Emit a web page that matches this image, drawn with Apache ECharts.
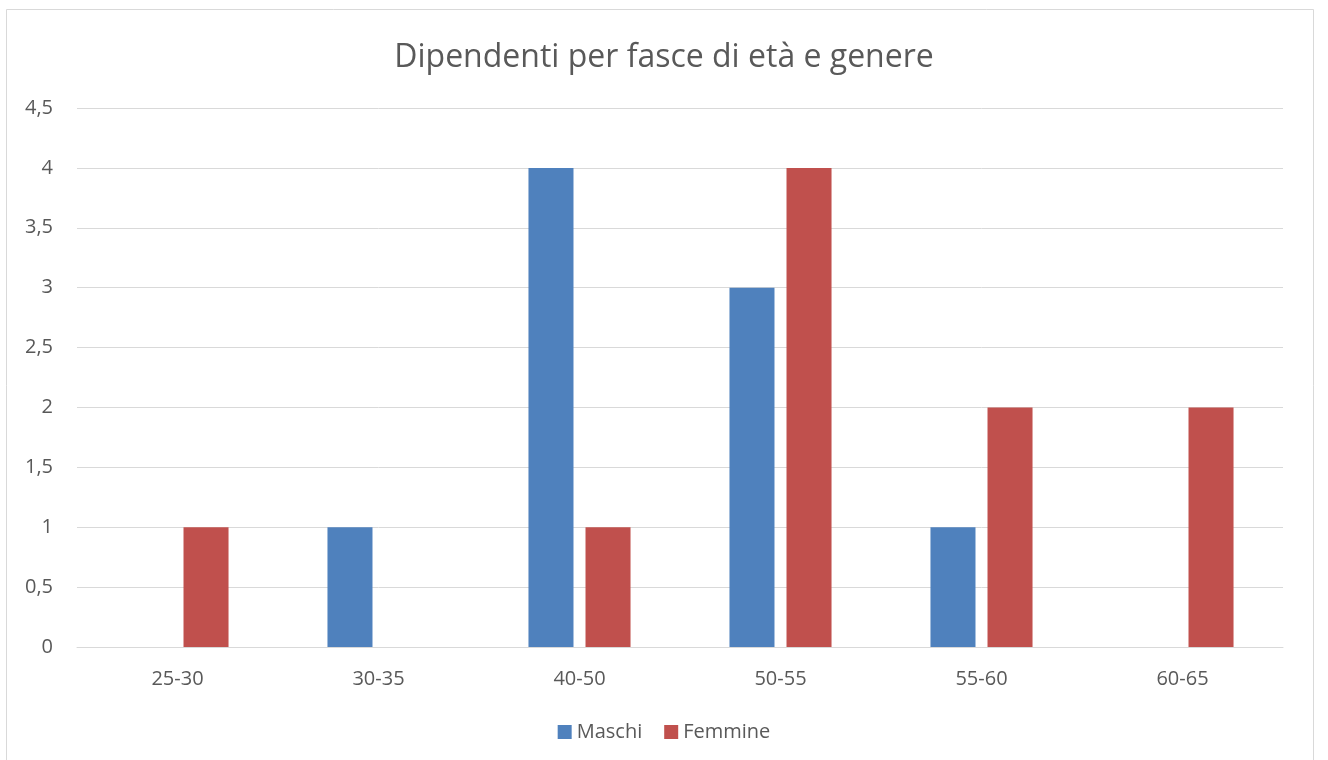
<!DOCTYPE html>
<html><head><meta charset="utf-8">
<script src="https://cdn.jsdelivr.net/npm/echarts@6/dist/echarts.min.js"></script>
<style>html,body{margin:0;padding:0;background:#fff}#c{width:1328px;height:760px}</style>
</head><body><div id="c"></div>
<script>
const categories = ['25-30','30-35','40-50','50-55','55-60','60-65'];
const maschi = [0,1,4,3,1,0];
const femmine = [1,0,1,4,2,2];
const yTicks = [0,0.5,1,1.5,2,2.5,3,3.5,4,4.5];

const chart = echarts.init(document.getElementById('c'));
const font = 'Open Sans';
chart.setOption({
  animation:false,
  backgroundColor:'#fff',
  graphic:[{type:'rect',shape:{x:6.5,y:9.5,width:1307,height:800},style:{fill:'none',stroke:'#d9d9d9',lineWidth:1},silent:true}],
  title:{text:'Dipendenti per fasce di età e genere',left:'center',top:37,
    textStyle:{fontFamily:font,fontSize:32,fontWeight:'normal',color:'#595959'}},
  legend:{bottom:13,left:'center',itemWidth:14,itemHeight:14,itemGap:22,icon:'rect',
    textStyle:{fontFamily:font,fontSize:20,color:'#595959'},data:['Maschi','Femmine']},
  grid:{left:77,right:45,top:108,bottom:113,containLabel:false},
  xAxis:{type:'category',data:categories,
    axisLine:{lineStyle:{color:'#d9d9d9',width:1}},axisTick:{show:false},
    axisLabel:{fontFamily:font,fontSize:20,color:'#595959',margin:22}},
  yAxis:{type:'value',min:0,max:4.5,interval:0.5,
    axisLine:{show:false},axisTick:{show:false},
    splitLine:{lineStyle:{color:'#d9d9d9',width:1}},
    axisLabel:{fontFamily:font,fontSize:20,color:'#595959',margin:24,
      formatter:v=>String(v).replace('.',',')}},
  series:[
    {name:'Maschi',type:'bar',data:maschi,barWidth:'22.4%',barGap:'26.7%',itemStyle:{color:'#4F81BD'}},
    {name:'Femmine',type:'bar',data:femmine,barWidth:'22.4%',barGap:'26.7%',itemStyle:{color:'#C0504D'}}
  ]
});
</script></body></html>
